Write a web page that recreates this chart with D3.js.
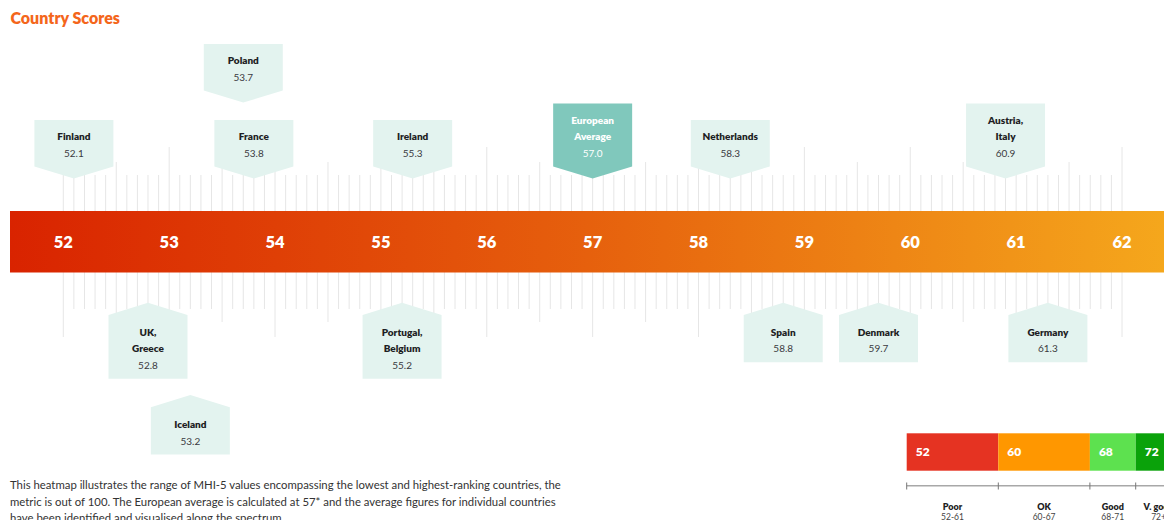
<!DOCTYPE html>
<html><head><meta charset="utf-8">
<script src="https://cdn.jsdelivr.net/npm/d3@7"></script>
<style>
html,body{margin:0;padding:0;background:#fff;}
svg{display:block;font-family:Lato,"Open Sans",sans-serif;}
</style></head>
<body><svg id="chart" width="1164" height="520"></svg>
<script>
// ---- data ----
const countries = ["Finland","Poland","France","Ireland","European Average","Netherlands","Austria, Italy","UK, Greece","Iceland","Portugal, Belgium","Spain","Denmark","Germany"];
const scores = [52.1,53.7,53.8,55.3,57.0,58.3,60.9,52.8,53.2,55.2,58.8,59.7,61.3];
const sides = ["above","above","above","above","above","above","above","below","below","below","below","below","below"];
const tiers = [1,2,1,1,1,1,1,1,2,1,1,1,1];
const axisTicks = [52,53,54,55,56,57,58,59,60,61,62];
const legendBreaks = [52,60,68,72,76];
const legendStartLabels = ["52","60","68","72"];
const legendNames = ["Poor","OK","Good","V. good"];
const legendRanges = ["52-61","60-67","68-71","72+"];
const legendColors = ["#e53322","#ff9700","#5de14f","#0aa20a"];
const title = "Country Scores";
const paragraph = ["This heatmap illustrates the range of MHI-5 values encompassing the lowest and highest-ranking countries, the",
  "metric is out of 100. The European average is calculated at 57* and the average figures for individual countries",
  "have been identified and visualised along the spectrum."];

const svg = d3.select("#chart");
const x = d3.scaleLinear().domain([52,62]).range([63.3,1122]);

// title
svg.append("text").attr("x",10.5).attr("y",24).attr("fill","#f4661b")
  .attr("font-size",16).attr("font-weight",800).text(title);

// gradient
const defs = svg.append("defs");
const grad = defs.append("linearGradient").attr("id","barGrad")
  .attr("gradientUnits","userSpaceOnUse").attr("x1",10).attr("x2",1164).attr("y1",0).attr("y2",0);
grad.append("stop").attr("offset","0%").attr("stop-color","#d92300");
grad.append("stop").attr("offset","50%").attr("stop-color","#e6600d");
grad.append("stop").attr("offset","100%").attr("stop-color","#f5a71c");

// tick lines
const tickVals = d3.range(520,621).map(d=>d/10);
const barTop = 211, barBot = 272.5;
function kind(v){ const t=Math.round(v*10); if(t%10===0) return 2; if(t%5===0) return 1; return 0; }
const topStart = [175,162,147], botEnd = [309,322,337];
svg.append("g").selectAll("line").data(tickVals).join("line")
  .attr("x1",d=>x(d)).attr("x2",d=>x(d))
  .attr("y1",d=>topStart[kind(d)]).attr("y2",d=>botEnd[kind(d)])
  .attr("stroke","#e6e6e6").attr("stroke-width",1);

// bar
svg.append("rect").attr("x",10).attr("y",barTop).attr("width",1164).attr("height",barBot-barTop)
  .attr("fill","url(#barGrad)");
svg.append("g").selectAll("text").data(axisTicks).join("text")
  .attr("x",d=>x(d)).attr("y",(barTop+barBot)/2).attr("dy","0.36em")
  .attr("text-anchor","middle").attr("fill","#fff").attr("font-size",16.5).attr("font-weight",800)
  .text(d=>d);

// boxes
const hw = 39.5, lh = 16.5;
const items = countries.map((c,i)=>({name:c, v:scores[i], side:sides[i], tier:tiers[i], lines:c.split(" ")}));
const boxes = svg.append("g").selectAll("g").data(items).join("g");
boxes.append("path").attr("d",d=>{
  const cx = x(d.v), n = d.lines.length;
  if(d.side==="above"){
    const off = d.tier===2 ? -76 : 0;
    const tip = 178.5+off, sh = 166.5+off, top = 120+off-(n-1)*lh;
    return `M${cx-hw},${top}H${cx+hw}V${sh}L${cx},${tip}L${cx-hw},${sh}Z`;
  } else {
    const off = d.tier===2 ? 92.3 : 0;
    const tip = 302.7+off, sh = 315+off, bot = 362.3+off+(n-1)*lh;
    return `M${cx},${tip}L${cx+hw},${sh}V${bot}H${cx-hw}V${sh}Z`;
  }
}).attr("fill",d=>d.name==="European Average" ? "#80c8bc" : "#e3f3ef");
boxes.each(function(d){
  const g = d3.select(this), cx = x(d.v), n = d.lines.length;
  const isAvg = d.name==="European Average";
  let first;
  if(d.side==="above"){
    const off = d.tier===2 ? -76 : 0;
    first = 153.3+off - n*lh;
  } else {
    const off = d.tier===2 ? 92.3 : 0;
    first = 332.3+off;
  }
  d.lines.forEach((l,k)=>{
    g.append("text").attr("x",cx).attr("y",first+k*lh).attr("dy","0.35em")
      .attr("text-anchor","middle").attr("font-size",10).attr("font-weight",800)
      .attr("fill",isAvg?"#fff":"#1e1e24").text(l);
  });
  g.append("text").attr("x",cx).attr("y",first+n*lh).attr("dy","0.35em")
    .attr("text-anchor","middle").attr("font-size",10)
    .attr("fill",isAvg?"#fff":"#3a3a40").text(d3.format(".1f")(d.v));
});

// paragraph
const para = svg.append("text").attr("font-size",11.35).attr("fill","#333");
paragraph.forEach((l,i)=>{
  para.append("tspan").attr("x",10).attr("y",489+i*16.5).text(l);
});

// legend
const lx = d3.scaleLinear().domain([52,76]).range([906.7,1181.5]);
const segs = legendColors.map((c,i)=>({c, a:legendBreaks[i], b:legendBreaks[i+1], lab:legendStartLabels[i], name:legendNames[i], rng:legendRanges[i]}));
const lg = svg.append("g");
lg.selectAll("rect").data(segs).join("rect")
  .attr("x",d=>lx(d.a)).attr("width",d=>lx(d.b)-lx(d.a)).attr("y",433.3).attr("height",37.4)
  .attr("fill",d=>d.c);
lg.selectAll("text.num").data(segs).join("text").attr("class","num")
  .attr("x",d=>lx(d.a)+9).attr("y",452).attr("dy","0.36em")
  .attr("fill","#fff").attr("font-size",12).attr("font-weight",800).text(d=>d.lab);
lg.append("line").attr("x1",lx(52)).attr("x2",1164).attr("y1",485.7).attr("y2",485.7)
  .attr("stroke","#a8a8a8").attr("stroke-width",1.5);
lg.selectAll("line.t").data(legendBreaks.slice(0,4)).join("line").attr("class","t")
  .attr("x1",d=>lx(d)).attr("x2",d=>lx(d)).attr("y1",482.5).attr("y2",489.5)
  .attr("stroke","#777").attr("stroke-width",1);
lg.selectAll("text.nm").data(segs).join("text").attr("class","nm")
  .attr("x",d=>(lx(d.a)+lx(d.b))/2).attr("y",507.3).attr("dy","0.35em").attr("text-anchor","middle")
  .attr("font-size",9).attr("font-weight",800).attr("fill","#1e1e24").text(d=>d.name);
lg.selectAll("text.rg").data(segs).join("text").attr("class","rg")
  .attr("x",d=>(lx(d.a)+lx(d.b))/2).attr("y",517).attr("dy","0.35em").attr("text-anchor","middle")
  .attr("font-size",8.5).attr("fill","#444").text(d=>d.rng);
</script></body></html>
